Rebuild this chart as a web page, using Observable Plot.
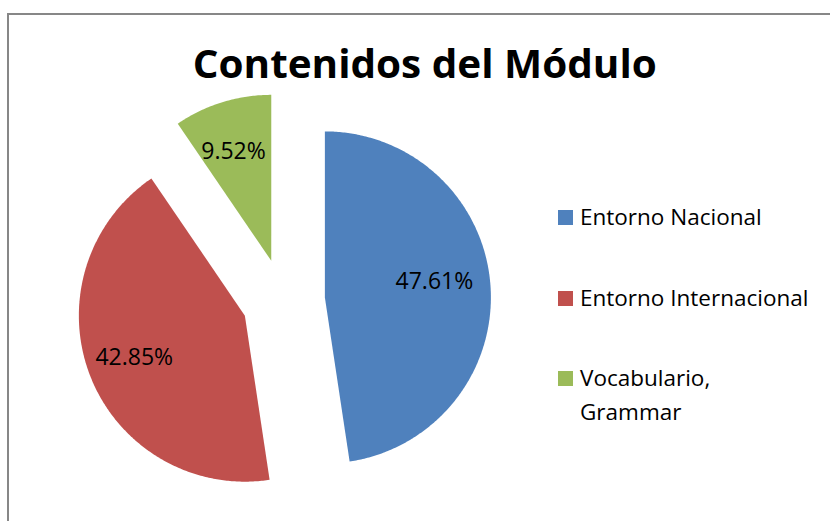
<!DOCTYPE html>
<html>
<head>
<meta charset="utf-8">
<script src="https://cdn.jsdelivr.net/npm/d3@7"></script>
<script src="https://cdn.jsdelivr.net/npm/@observablehq/plot@0.6"></script>
<style>
  html, body { margin: 0; padding: 0; background: #fff; }
  #wrap { position: relative; width: 830px; height: 521px; overflow: hidden; font-family: "Open Sans", sans-serif; }
  #frame { position: absolute; left: 7px; top: 13px; width: 900px; height: 600px; border-left: 2px solid #878787; border-top: 2px solid #878787; }
  #title { position: absolute; left: 10px; top: 38px; width: 830px; text-align: center; font-weight: bold; font-size: 39px; line-height: 50px; color: #000; white-space: nowrap; }
  #title span { display: inline-block; transform-origin: center; }
  #chart { position: absolute; left: 0; top: 0; }
  .leg { position: absolute; left: 558px; font-size: 22.5px; line-height: 34px; color: #000; white-space: pre-line; }
  .leg i { position: absolute; left: 0; top: 10px; width: 15px; height: 15px; }
  .leg span { display: block; margin-left: 22px; }
</style>
</head>
<body>
<div id="wrap">
  <div id="frame"></div>
  <div id="chart"></div>
  <div id="title"><span>Contenidos del Módulo</span></div>
</div>
<script>
const title = "Contenidos del Módulo";
const categories = ["Entorno Nacional", "Entorno Internacional", "Vocabulario, Grammar"];
const shares = [47.61, 42.85, 9.52];
const labels = ["47.61%", "42.85%", "9.52%"];
const colors = ["#4F81BD", "#C0504D", "#9BBB59"];

const W = 830, H = 521;
const CX = 283, CY = 300, R = 166;   // pie centre and radius in pixels
const EXPLODE = 0.25;                // fraction of radius
const LABEL_R = 0.69;

const arcs = d3.pie().sort(null).value(d => d)(shares);
const polys = [];
const texts = [];
arcs.forEach((a, i) => {
  const mid = (a.startAngle + a.endAngle) / 2;
  const ox = EXPLODE * Math.sin(mid), oy = EXPLODE * Math.cos(mid);
  const cat = categories[i];
  polys.push({cat, x: ox, y: oy});
  const n = Math.max(4, Math.ceil((a.endAngle - a.startAngle) / 0.01));
  for (let k = 0; k <= n; k++) {
    const t = a.startAngle + (a.endAngle - a.startAngle) * k / n;
    polys.push({cat, x: ox + Math.sin(t), y: oy + Math.cos(t)});
  }
  polys.push({cat, x: ox, y: oy});
  const lm = mid - 0.06 * (i === 0 ? 1 : 0);
  texts.push({cat, label: labels[i], x: ox + LABEL_R * Math.sin(lm), y: oy + LABEL_R * Math.cos(lm)});
});

const plot = Plot.plot({
  width: W, height: H,
  margin: 0,
  x: {domain: [-CX / R, (W - CX) / R], axis: null},
  y: {domain: [(CY - H) / R, CY / R], axis: null},
  color: {domain: categories, range: colors},
  style: {background: "transparent", fontFamily: "Open Sans, sans-serif", overflow: "visible"},
  marks: [
    Plot.line(polys, {x: "x", y: "y", z: "cat", fill: "cat", stroke: null, curve: "linear"}),
    Plot.text(texts, {x: "x", y: "y", text: "label", fontSize: 23, fill: "#000", textAnchor: "middle", dx: -4})
  ]
});
document.getElementById("chart").appendChild(plot);

// legend
const wrap = document.getElementById("wrap");
categories.forEach((c, i) => {
  const d = document.createElement("div");
  d.className = "leg";
  d.style.top = (200 + i * 80.5) + "px";
  const sw = document.createElement("i");
  sw.style.background = colors[i];
  const s = document.createElement("span");
  s.textContent = c.replace(", ", ",\n");
  d.appendChild(sw); d.appendChild(s);
  wrap.appendChild(d);
});

// fit title to reference width
const ts = document.querySelector("#title span");
const w = ts.getBoundingClientRect().width;
ts.style.transform = `scaleX(${464 / w})`;
</script>
</body>
</html>
